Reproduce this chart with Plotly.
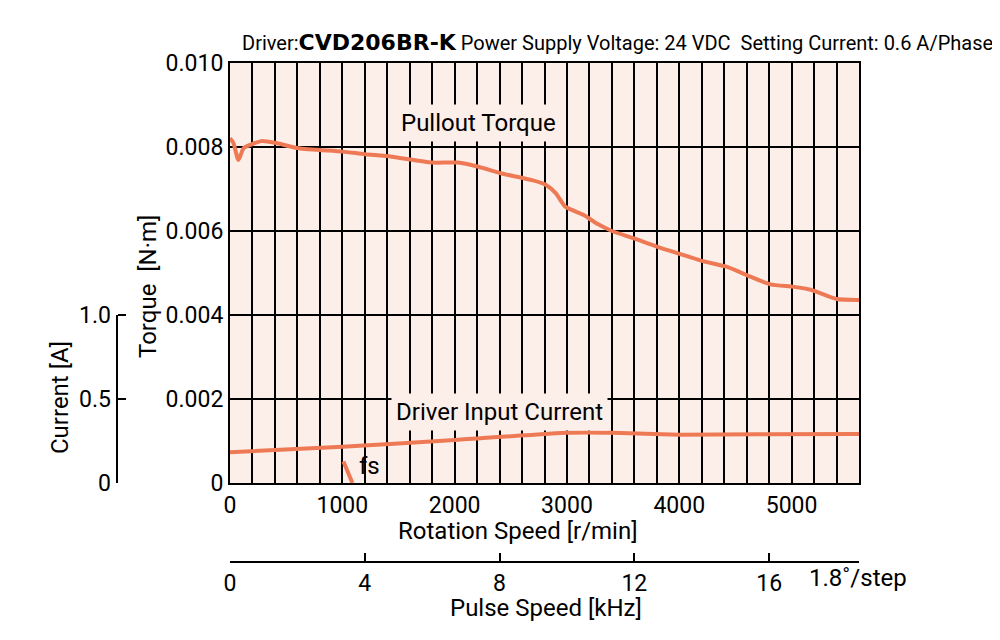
import plotly.graph_objects as go

# pullout torque
speed_rpm = [0, 30, 75, 120, 180, 280, 400, 610, 1000, 1200, 1440, 1800, 2030, 2210,
             2420, 2690, 2810, 2900, 2985, 3150, 3270, 3400, 3590, 3800, 4010, 4200,
             4420, 4600, 4810, 5020, 5170, 5400, 5600]
torque_nm = [0.00821, 0.00810, 0.00769, 0.00797, 0.00805, 0.00814, 0.00810, 0.00797,
             0.00789, 0.00783, 0.00777, 0.00763, 0.00763, 0.00753, 0.00737, 0.00721,
             0.00710, 0.00690, 0.00658, 0.00638, 0.00617, 0.00600, 0.00583, 0.00563,
             0.00545, 0.00529, 0.00515, 0.00495, 0.00473, 0.00467, 0.00460, 0.00438,
             0.00436]

# driver input current
cur_rpm = [0, 1000, 2000, 3000, 3400, 4000, 4700, 5600]
cur_amp = [0.183, 0.216, 0.256, 0.299, 0.299, 0.287, 0.290, 0.291]

# starting pulse rate marker (fs)
fs_rpm = [1010, 1090]
fs_torque = [0.00051, 0.0]

torque_ticks = [0, 0.002, 0.004, 0.006, 0.008, 0.010]
torque_labels = ["0", "0.002", "0.004", "0.006", "0.008", "0.010"]
speed_ticks = [0, 1000, 2000, 3000, 4000, 5000]
pulse_ticks = [0, 4, 8, 12, 16]
current_ticks = [0, 0.5, 1.0]
current_labels = ["0", "0.5", "1.0"]

FONT = "Roboto, sans-serif"
ORANGE = "#EE7A55"
PINK = "#FCEEE9"

# page has an 8px body margin: figure is 992x632, reference pixels minus 8
OFF = 8
W, H = 992, 632
L, T = 117 - OFF, 63 - OFF
R, B = W - (859 - OFF), H - (562 - OFF)
PW, PH = W - L - R, H - T - B


def px(x):
    return (x - OFF - L) / PW


def py(y):
    return (H - B - (y - OFF)) / PH


fig = go.Figure()
fig.add_trace(go.Scatter(x=speed_rpm, y=torque_nm, mode="lines",
                         line=dict(color=ORANGE, width=4, shape="spline", smoothing=0.6),
                         hoverinfo="skip", showlegend=False))
fig.add_trace(go.Scatter(x=cur_rpm, y=cur_amp, yaxis="y3", mode="lines",
                         line=dict(color=ORANGE, width=4, shape="spline", smoothing=0.4),
                         hoverinfo="skip", showlegend=False))
fig.add_trace(go.Scatter(x=fs_rpm, y=fs_torque, mode="lines",
                         line=dict(color=ORANGE, width=4),
                         hoverinfo="skip", showlegend=False))
# carrier for the pulse speed axis
fig.add_trace(go.Scatter(x=[0], y=[0], xaxis="x2", mode="markers", opacity=0,
                         hoverinfo="skip", showlegend=False))

x_dom = [px(230), 1]
y_dom = [py(483), 1]

fig.update_layout(
    width=W, height=H,
    margin=dict(l=L, r=R, t=T, b=B),
    paper_bgcolor="white", plot_bgcolor=PINK,
    font=dict(family=FONT, size=23, color="black"),
    xaxis=dict(domain=x_dom, range=[0, 5600], tickvals=speed_ticks,
               showgrid=True, gridcolor="black", gridwidth=2,
               minor=dict(dtick=200, tick0=0, showgrid=True, gridcolor="black", gridwidth=2),
               showline=True, linecolor="black", linewidth=2, mirror=True,
               zeroline=False, ticks="", anchor="y"),
    yaxis=dict(domain=y_dom, range=[0, 0.010], tickvals=torque_ticks, ticktext=torque_labels,
               showgrid=True, gridcolor="black", gridwidth=2,
               showline=True, linecolor="black", linewidth=2, mirror=True,
               zeroline=False, ticks="", anchor="x"),
    xaxis2=dict(domain=x_dom, overlaying="x", anchor="free", position=0, side="bottom",
                range=[0, 5600 * 200 / 60 / 1000], tickvals=pulse_ticks,
                showgrid=False, zeroline=False, showline=True, linecolor="black", linewidth=2,
                ticks="inside", ticklen=8, tickwidth=2, tickcolor="black"),
    yaxis3=dict(domain=y_dom, overlaying="y", anchor="free", position=0, side="left",
                range=[0, 2.5], tickvals=current_ticks, ticktext=current_labels,
                showgrid=False, zeroline=False, showline=False,
                ticks="inside", ticklen=8, tickwidth=2, tickcolor="black",
                ticklabelstandoff=6),
)

# current axis line only runs 0..1.0 A
fig.add_shape(type="line", xref="paper", yref="y3", x0=0, x1=0, y0=0, y1=1.0,
              line=dict(color="black", width=2))

ann = dict(showarrow=False, xref="paper", yref="paper", xanchor="center", yanchor="middle",
           font=dict(family=FONT, size=24, color="black"))
fig.add_annotation(x=px(478), y=py(123), text="Pullout Torque", bgcolor=PINK, borderpad=4, **ann)
fig.add_annotation(x=px(500), y=py(412), text="Driver Input Current", bgcolor=PINK, borderpad=4, **ann)
fig.add_annotation(x=px(369), y=py(466), text="fs", **ann)
fig.add_annotation(x=px(148), y=py(287), text="Torque  [N·m]", textangle=-90, **ann)
fig.add_annotation(x=px(60), y=py(397), text="Current [A]", textangle=-90, **ann)
fig.add_annotation(x=px(518), y=py(531), text="Rotation Speed [r/min]", **ann)
fig.add_annotation(x=px(546), y=py(608), text="Pulse Speed [kHz]", **ann)
fig.add_annotation(x=px(858), y=py(578), text="1.8˚/step", **ann)
fig.add_annotation(x=px(995), y=py(43),
                   text="Driver:<span style='font-family:DejaVu Sans;font-weight:bold;font-size:22px'>CVD206BR-K</span>"
                        " Power Supply Voltage: 24 VDC  Setting Current: 0.6 A/Phase",
                   **{**ann, "xanchor": "right", "font": dict(family=FONT, size=20, color="black")})

fig.write_html("out.html")
